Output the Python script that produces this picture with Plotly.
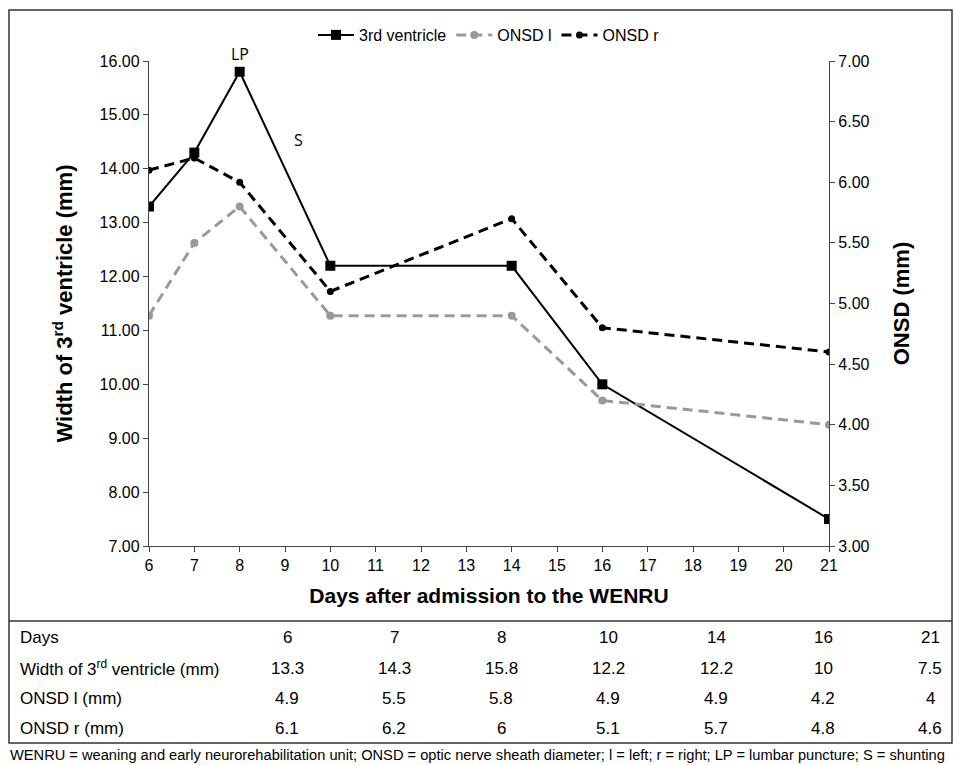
import plotly.graph_objects as go

days = [6, 7, 8, 10, 14, 16, 21]
ventricle = [13.3, 14.3, 15.8, 12.2, 12.2, 10, 7.5]
onsd_l = [4.9, 5.5, 5.8, 4.9, 4.9, 4.2, 4]
onsd_r = [6.1, 6.2, 6, 5.1, 5.7, 4.8, 4.6]
row_labels = ["Days", "Width of 3<sup>rd</sup> ventricle (mm)", "ONSD l (mm)", "ONSD r (mm)"]
table_rows = [
    [str(d) for d in days],
    [f"{v:g}" for v in ventricle],
    [f"{v:g}" for v in onsd_l],
    [f"{v:g}" for v in onsd_r],
]
footnote = ("WENRU = weaning and early neurorehabilitation unit; ONSD = optic nerve sheath diameter; "
            "l = left; r = right; LP = lumbar puncture; S = shunting")

FONT = "Liberation Sans, Arial, sans-serif"
W, H = 953, 765
L, R, T, B = 149, 829, 61, 546


def px(x):
    return (x - L) / (R - L)


def py(y):
    return (B - y) / (B - T)


fig = go.Figure()
fig.add_trace(go.Scatter(
    x=days, y=ventricle, name="3rd ventricle", mode="lines+markers",
    line=dict(color="black", width=2),
    marker=dict(symbol="square", size=10, color="black"),
))
fig.add_trace(go.Scatter(
    x=days, y=onsd_l, name="ONSD l", mode="lines+markers", yaxis="y2",
    line=dict(color="#999999", width=3, dash="10px,6px"),
    marker=dict(symbol="circle", size=8, color="#999999"),
))
fig.add_trace(go.Scatter(
    x=days, y=onsd_r, name="ONSD r", mode="lines+markers", yaxis="y2",
    line=dict(color="black", width=3, dash="10px,6px"),
    marker=dict(symbol="circle", size=7, color="black"),
))

annotations = [
    dict(x=8, y=15.8, xref="x", yref="y", text="LP", showarrow=False,
         yshift=18, font=dict(family="Open Sans, DejaVu Sans", size=16, color="black")),
    dict(x=9.3, y=14.53, xref="x", yref="y", text="S", showarrow=False,
         font=dict(family="Open Sans, DejaVu Sans", size=16, color="black")),
]

col_x = [287, 394, 501, 608, 716, 823, 930]
row_y = [637, 668, 698, 728]
for ry, lab, vals in zip(row_y, row_labels, table_rows):
    annotations.append(dict(x=px(18), y=py(ry), xref="paper", yref="paper", text=lab,
                            showarrow=False, xanchor="left", yanchor="middle",
                            font=dict(family=FONT, size=17, color="black")))
    for cx, v in zip(col_x, vals):
        annotations.append(dict(x=px(cx), y=py(ry), xref="paper", yref="paper", text=v,
                                showarrow=False, xanchor="center", yanchor="middle",
                                font=dict(family=FONT, size=17, color="black")))

annotations.append(dict(x=px(8), y=py(755), xref="paper", yref="paper", text=footnote,
                        showarrow=False, xanchor="left", yanchor="middle",
                        font=dict(family=FONT, size=14.65, color="black")))

shapes = [
    dict(type="rect", xref="paper", yref="paper", x0=px(9), x1=px(952), y0=py(743), y1=py(10),
         line=dict(color="#333333", width=1.5), layer="below"),
    dict(type="line", xref="paper", yref="paper", x0=px(9), x1=px(952), y0=py(621), y1=py(621),
         line=dict(color="#333333", width=1.5)),
]

fig.update_layout(
    width=W, height=H,
    margin=dict(l=L, r=W - R, t=T, b=H - B),
    paper_bgcolor="white", plot_bgcolor="white",
    font=dict(family=FONT, size=16, color="black"),
    showlegend=True,
    legend=dict(orientation="h", x=0.5, xanchor="center", y=py(35), yanchor="middle",
                font=dict(family=FONT, size=16), bgcolor="rgba(0,0,0,0)",
                itemwidth=36, tracegroupgap=0),
    xaxis=dict(range=[6, 21], tickmode="linear", tick0=6, dtick=1,
               showline=True, linecolor="#444", linewidth=1.3,
               ticks="outside", ticklen=5, tickcolor="#444",
               showgrid=False, zeroline=False,
               tickfont=dict(size=16),
               title=dict(text="<b>Days after admission to the WENRU</b>",
                          font=dict(size=21), standoff=14)),
    yaxis=dict(range=[7, 16], tickmode="linear", tick0=7, dtick=1, tickformat=".2f",
               showline=True, linecolor="#444", linewidth=1.3,
               ticks="outside", ticklen=5, tickcolor="#444",
               showgrid=False, zeroline=False,
               tickfont=dict(size=16),
               title=dict(text="<b>Width of 3<sup>rd</sup> ventricle (mm)</b>",
                          font=dict(size=22), standoff=20)),
    yaxis2=dict(range=[3, 7], tickmode="linear", tick0=3, dtick=0.5, tickformat=".2f",
                overlaying="y", side="right",
                showline=True, linecolor="#444", linewidth=1.3,
                ticks="outside", ticklen=5, tickcolor="#444",
                showgrid=False, zeroline=False,
                tickfont=dict(size=16),
                title=dict(text="<b>ONSD (mm)</b>", font=dict(size=22), standoff=25)),
    annotations=annotations,
    shapes=shapes,
)

fig.write_html("out.html", config={"displayModeBar": False})

with open("out.html", "r", encoding="utf-8") as f:
    html = f.read()
html = html.replace("<head>", "<head><style>html,body{margin:0;padding:0;overflow:hidden;}</style>", 1)
with open("out.html", "w", encoding="utf-8") as f:
    f.write(html)
